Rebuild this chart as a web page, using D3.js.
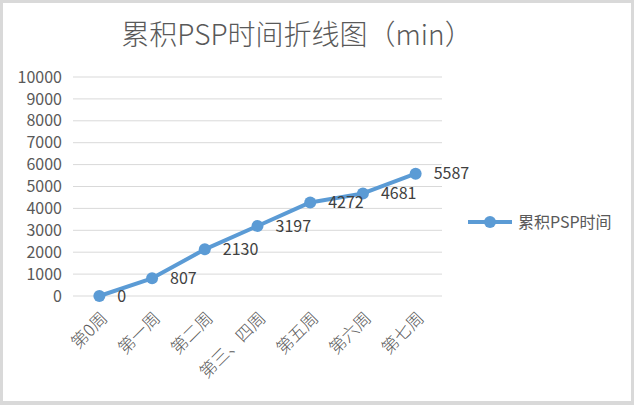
<!DOCTYPE html>
<html><head><meta charset="utf-8">
<script src="https://cdn.jsdelivr.net/npm/d3@7"></script>
<style>body{margin:0;background:#fff}svg{display:block}</style>
</head><body><svg id="c" width="634" height="405"></svg>
<script>
const categories = ["第0周","第一周","第二周","第三、四周","第五周","第六周","第七周"];
const values = [0, 807, 2130, 3197, 4272, 4681, 5587];
const yTicks = [0,1000,2000,3000,4000,5000,6000,7000,8000,9000,10000];
const seriesName = "累积PSP时间";
const title = "累积PSP时间折线图（min）";

(function(){
const svg = d3.select("#c");
const font = "'Noto Sans CJK SC', 'Microsoft YaHei', sans-serif";
svg.append("rect").attr("width",634).attr("height",405).attr("fill","#d9d9d9");
svg.append("rect").attr("x",3).attr("y",3).attr("width",628).attr("height",398).attr("fill","#fff");

const pLeft = 73, pRight = 442, pTop = 77, pBottom = 296;
const x = d3.scaleBand().domain(categories).range([pLeft,pRight]);
const y = d3.scaleLinear().domain([0,10000]).range([pBottom,pTop]);

svg.append("text").attr("x",297).attr("y",45).attr("text-anchor","middle")
  .attr("font-family",font).attr("font-size",28).attr("font-weight",300).attr("fill","#595959").text(title);

const grid = svg.append("g");
grid.selectAll("line").data(yTicks).join("line")
  .attr("x1",pLeft).attr("x2",pRight).attr("y1",d=>y(d)).attr("y2",d=>y(d))
  .attr("stroke","#d9d9d9").attr("stroke-width",1);

const yAxis = d3.axisLeft(y).tickValues(yTicks).tickSize(0).tickPadding(11).tickFormat(d3.format("d"));
const ya = svg.append("g").attr("transform",`translate(${pLeft},0)`).call(yAxis);
ya.select(".domain").remove();
ya.selectAll("text").attr("font-family",font).attr("font-size",16).attr("fill","#595959");

const xAxis = d3.axisBottom(x).tickSize(0).tickPadding(0);
const xa = svg.append("g").attr("transform",`translate(0,${pBottom})`).call(xAxis);
xa.select(".domain").remove();
xa.selectAll("text").attr("font-family",font).attr("font-size",17).attr("font-weight",300).attr("fill","#595959")
  .attr("text-anchor","end").attr("dy",null).attr("y",0)
  .attr("transform","translate(6,20) rotate(-45)").attr("dominant-baseline","middle");

const cx = d => x(d) + x.bandwidth()/2;
const line = d3.line().x((d,i)=>cx(categories[i])).y(d=>y(d));
svg.append("path").datum(values).attr("d",line).attr("fill","none")
  .attr("stroke","#5b9bd5").attr("stroke-width",4).attr("stroke-linejoin","round");
svg.selectAll("circle.pt").data(values).join("circle").attr("class","pt")
  .attr("cx",(d,i)=>cx(categories[i])).attr("cy",d=>y(d)).attr("r",6).attr("fill","#5b9bd5");
svg.selectAll("text.lbl").data(values).join("text").attr("class","lbl")
  .attr("x",(d,i)=>cx(categories[i])+18).attr("y",d=>y(d)).attr("dy","0.35em")
  .attr("font-family",font).attr("font-size",16).attr("fill","#404040").text(d=>d);

const lg = svg.append("g").attr("transform","translate(468,222)");
lg.append("line").attr("x1",0).attr("x2",44).attr("stroke","#5b9bd5").attr("stroke-width",4);
lg.append("circle").attr("cx",22).attr("r",6).attr("fill","#5b9bd5");
lg.append("text").attr("x",50).attr("dy","0.35em").attr("font-family",font).attr("font-size",16)
  .attr("fill","#595959").text(seriesName);
})();
</script></body></html>
